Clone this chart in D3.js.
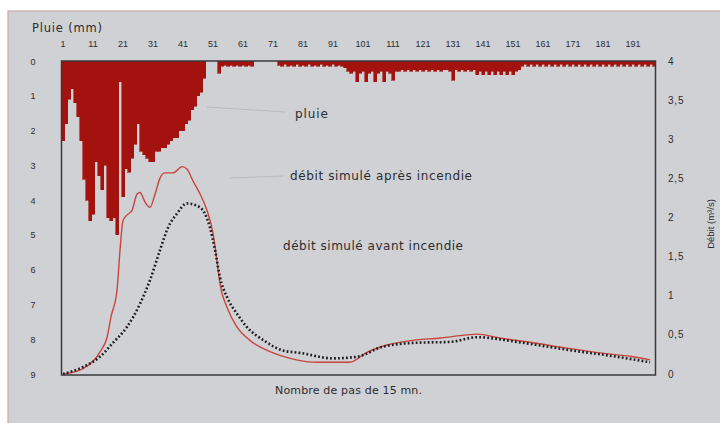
<!DOCTYPE html>
<html><head><meta charset="utf-8">
<script src="https://cdn.jsdelivr.net/npm/d3@7"></script>
<style>body{margin:0;background:#fff}svg{display:block;font-family:"Liberation Sans",Arial,sans-serif}</style>
</head><body><svg id="c" width="720" height="423"></svg>
<script>
// ---- data ----
const topTicks = [1,11,21,31,41,51,61,71,81,91,101,111,121,131,141,151,161,171,181,191];
const leftTicks = [0,1,2,3,4,5,6,7,8,9];
const rightTicks = [0,0.5,1,1.5,2,2.5,3,3.5,4];
const rightLabels = ["0","0,5","1","1,5","2","2,5","3","3,5","4"];
// rain (mm) per 15-min step, steps 1..198
const rain = [
2.3,1.8,1.1,0.8,1.2,1.6,2.3,3.4,4.0,4.6,
4.4,2.9,3.3,3.7,3.0,4.5,4.6,4.5,5.0,0.6,
3.9,3.1,3.2,2.8,2.4,1.8,2.6,2.7,2.8,2.9,
2.9,2.6,2.6,2.5,2.5,2.4,2.3,2.2,2.2,2.0,
2.0,1.8,1.7,1.4,1.3,1.0,0.9,0.5,0,0,
0,0,0.35,0.15,0.12,0.15,0.12,0.15,0.12,0.15,
0.12,0.15,0.12,0.15,0,0,0,0,0,0,
0,0,0.12,0.15,0.1,0.15,0.12,0.15,0.1,0.15,
0.12,0.15,0.1,0.15,0.12,0.15,0.1,0.15,0.12,0.15,
0.1,0.15,0.12,0.15,0.2,0.3,
0.35,0.3,0.6,0.35,0.3,0.6,0.35,0.3,0.6,0.35,0.3,0.6,0.3,0.35,0.55,0.3,
0.3,0.25,0.3,0.25,0.3,0.25,0.3,0.25,0.3,0.25,0.3,0.25,0.3,0.25,0.3,0.25,
0.25,0.3,0.55,0.25,0.3,0.25,0.3,0.25,0.3,0.25,
0.4,0.3,0.4,0.3,0.4,0.3,0.4,0.3,0.4,0.3,0.4,0.3,0.4,0.3,0.25,
0.15,0.1,0.15,0.1,0.15,0.1,0.15,0.1,0.15,0.1,
0.15,0.1,0.15,0.1,0.15,0.1,0.15,0.1,0.15,0.1,
0.15,0.1,0.15,0.1,0.15,0.1,0.15,0.1,0.15,0.1,
0.15,0.1,0.15,0.1,0.15,0.1,0.15,0.1,0.15,0.1,
0.15,0.1,0.15,0.1,0.15
];
// simulated discharge after fire (m3/s)
const afterSteps = [1,7.7,13.3,15.7,17,19,20,21,22.3,24,25.7,26.7,28.3,30,31.7,33.3,35,37.7,40.7,42.3,44.3,46.7,49,51,52.3,53.3,55.7,59,63.3,71,76.7,85.7,96.7,102,109,117.7,126.7,135.7,139,146.7,157.7,169,180,191,196.7];
const afterQ     = [0,0.07,0.28,0.47,0.73,1.07,1.58,1.96,2.03,2.09,2.3,2.32,2.2,2.13,2.3,2.5,2.57,2.57,2.65,2.62,2.47,2.3,2.09,1.8,1.45,1.16,0.85,0.6,0.43,0.27,0.2,0.15,0.15,0.27,0.37,0.43,0.46,0.5,0.51,0.46,0.4,0.33,0.27,0.22,0.18];
// simulated discharge before fire (m3/s)
const beforeSteps = [1,7.7,13.3,17.7,22.3,26.7,30,33.3,36,39,42.3,45.7,48.3,50,51.7,53.3,55.7,59,62.3,68.3,74.3,80,91,99,107.7,119,130,139,152.3,169,185.7,196.7];
const beforeQ     = [0,0.09,0.22,0.4,0.6,0.9,1.2,1.58,1.87,2.05,2.18,2.15,2.05,1.87,1.58,1.24,0.98,0.77,0.6,0.42,0.3,0.27,0.2,0.22,0.35,0.4,0.41,0.47,0.41,0.31,0.22,0.15];

// ---- drawing ----
const svg = d3.select("#c");
const x = d3.scaleLinear().domain([0.5, 198.5]).range([61.5, 655.5]);
const yR = d3.scaleLinear().domain([0, 9]).range([61, 374]);
const yQ = d3.scaleLinear().domain([0, 4]).range([374, 61]);

svg.append("rect").attr("x",8).attr("y",11).attr("width",730).attr("height",430)
  .attr("fill","#d0d1d4").attr("stroke","#c7a8a4").attr("stroke-width",1.2);

// rain bars
svg.append("g").attr("shape-rendering","crispEdges").selectAll("rect").data(rain).join("rect")
  .attr("x",(d,i)=>x(i+0.5)).attr("width",(d,i)=>x(i+1.5)-x(i+0.5))
  .attr("y",yR(0)).attr("height",d=>yR(d)-yR(0))
  .attr("fill","#a3120e").attr("stroke","#a3120e").attr("stroke-width",0.6);

// faint leader lines
const lead = svg.append("g").attr("stroke","#b9babd").attr("stroke-width",1).attr("fill","none");
lead.append("line").attr("x1",x(49)).attr("y1",107).attr("x2",285).attr("y2",112);
lead.append("line").attr("x1",230).attr("y1",178).attr("x2",283).attr("y2",176);

// curves
const lineA = d3.line().x((d,i)=>x(afterSteps[i])).y(d=>yQ(d)).curve(d3.curveMonotoneX);
const lineB = d3.line().x((d,i)=>x(beforeSteps[i])).y(d=>yQ(d)).curve(d3.curveMonotoneX);
svg.append("path").attr("d",lineA(afterQ)).attr("fill","none").attr("stroke","#c8443d").attr("stroke-width",1.4);
svg.append("path").attr("d",lineB(beforeQ)).attr("fill","none").attr("stroke","#1e1e22")
  .attr("stroke-width",2.6).attr("stroke-dasharray","1.8 2.2");

// frame
svg.append("rect").attr("x",x(0.5)).attr("y",yR(0)).attr("width",x(198.5)-x(0.5)).attr("height",yR(9)-yR(0)+1)
  .attr("fill","none").attr("stroke","#3a3a3e").attr("stroke-width",1.5);

const txt = "#2c2c30";
const wide = "'DejaVu Sans',Verdana,sans-serif";
// top axis labels
svg.append("g").selectAll("text").data(topTicks).join("text")
  .attr("x",d=>x(d)).attr("y",47).attr("text-anchor","middle")
  .attr("font-size",9).attr("fill",txt).text(d=>d);
svg.append("text").attr("x",32).attr("y",32).attr("font-size",11.5).attr("font-family",wide)
  .attr("textLength",70).attr("lengthAdjust","spacing").attr("fill",txt).text("Pluie (mm)");
// left axis labels
svg.append("g").selectAll("text").data(leftTicks).join("text")
  .attr("x",33).attr("y",d=>yR(d)+3.5).attr("text-anchor","middle")
  .attr("font-size",9).attr("fill",txt).text(d=>d);
// right axis labels
svg.append("g").selectAll("text").data(rightTicks).join("text")
  .attr("x",668).attr("y",d=>yQ(d)+3.5).attr("text-anchor","start")
  .attr("font-size",10).attr("letter-spacing",0.8).attr("fill",txt).text((d,i)=>rightLabels[i]);
svg.append("text").attr("transform","translate(714,224) rotate(-90)").attr("text-anchor","middle")
  .attr("font-size",9.5).attr("fill",txt).text("Débit (m³/s)");
// annotations
const ann = [["pluie",295,118,33],["débit simulé après incendie",290,180,182],["débit simulé avant incendie",283,250,180]];
svg.append("g").selectAll("text").data(ann).join("text")
  .attr("x",d=>d[1]).attr("y",d=>d[2]).attr("font-size",12).attr("font-family",wide)
  .attr("textLength",d=>d[3]).attr("lengthAdjust","spacing").attr("fill",txt).text(d=>d[0]);
svg.append("text").attr("x",275).attr("y",394).attr("font-size",11).attr("font-family",wide)
  .attr("textLength",147).attr("lengthAdjust","spacing").attr("fill",txt).text("Nombre de pas de 15 mn.");
</script></body></html>
